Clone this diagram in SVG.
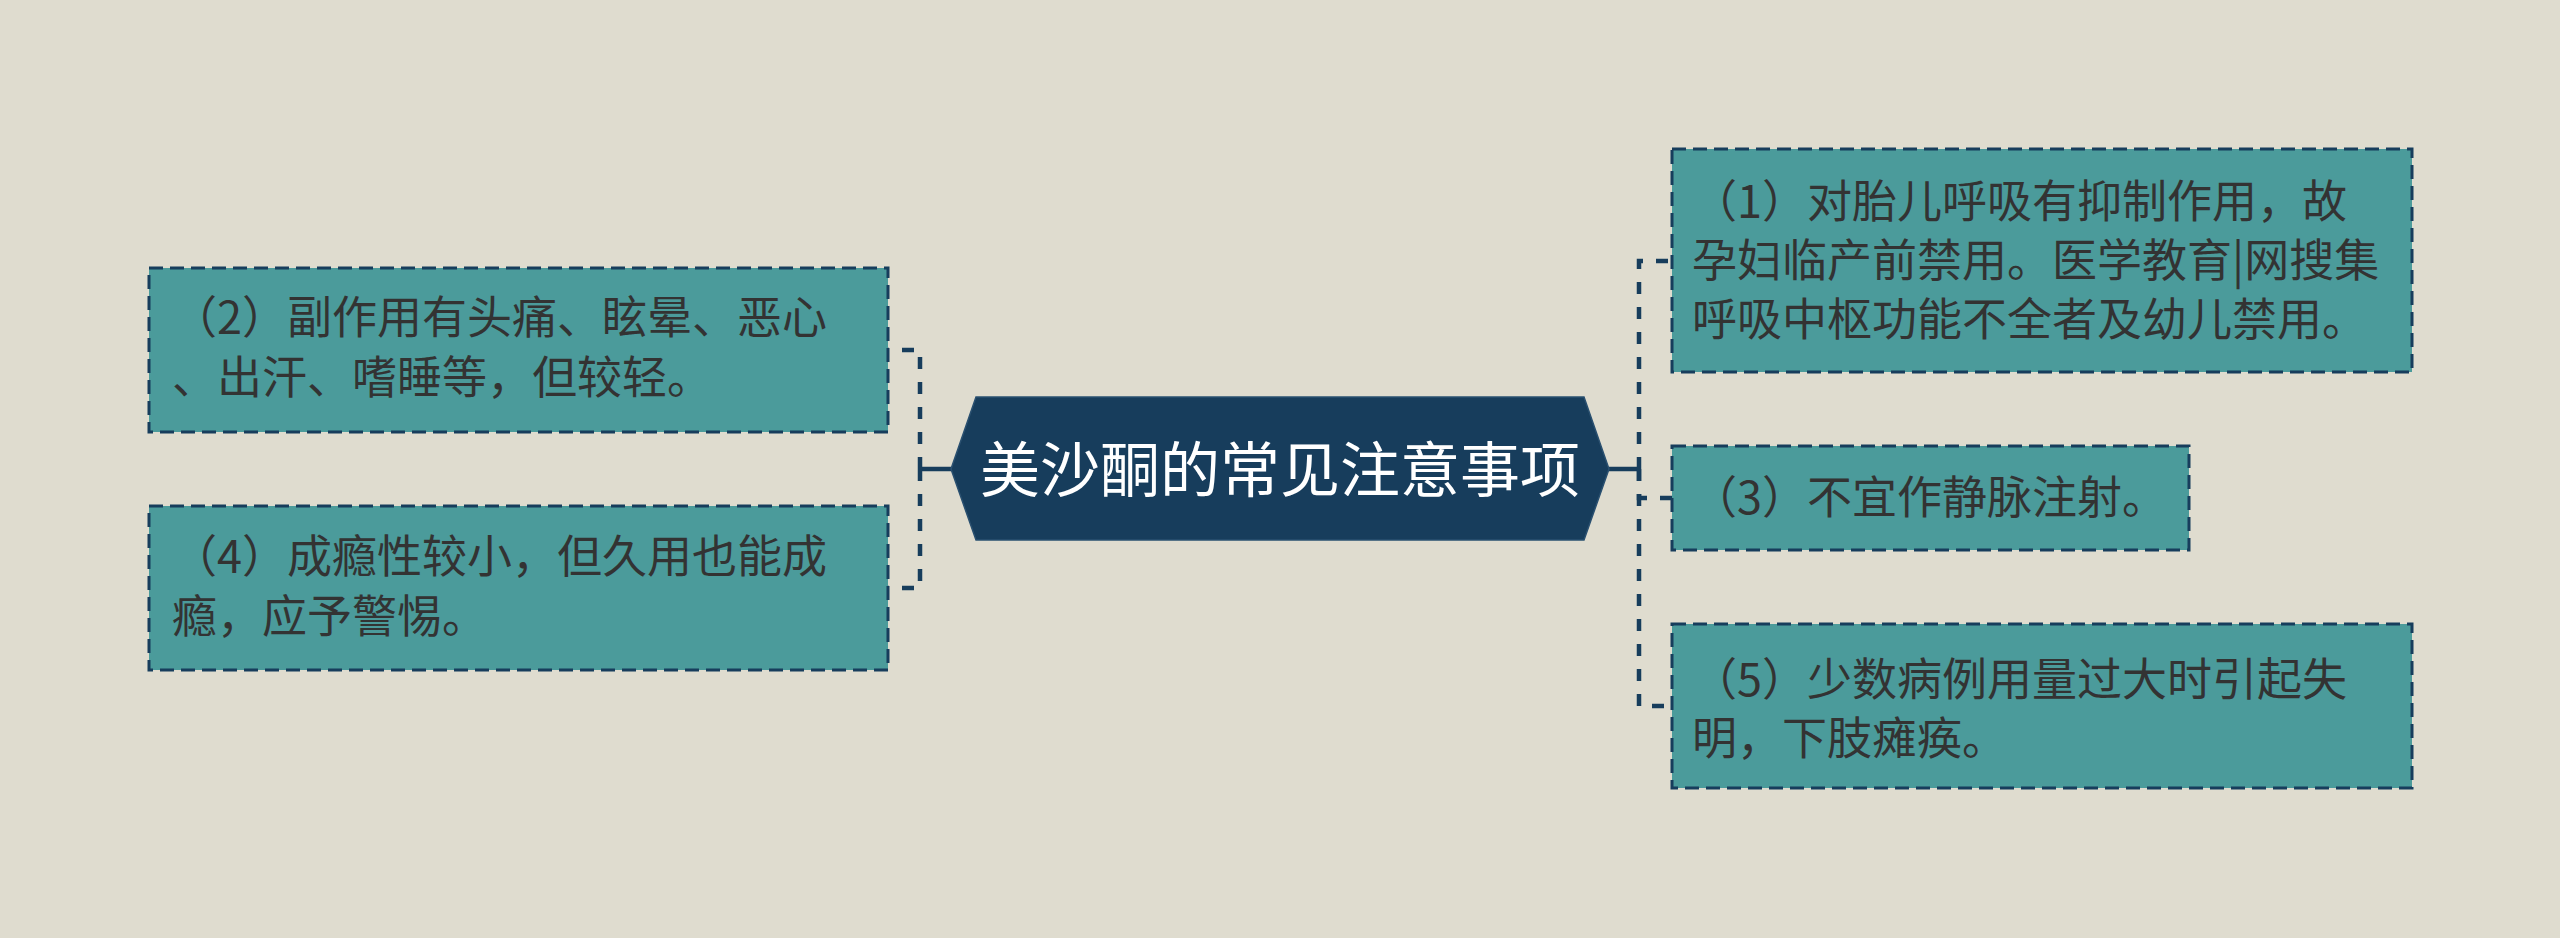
<svg xmlns="http://www.w3.org/2000/svg" width="2560" height="938" viewBox="0 0 2560 938">
<style>
.bg{fill:#dfdccf}
.box{fill:#4b9b9b;stroke:#173d5c;stroke-width:3;stroke-dasharray:14 7}
.t{font-family:"Noto Sans CJK SC","Noto Sans",sans-serif;font-size:45px;fill:#333333}
.ct{font-family:"Noto Sans CJK SC","Noto Sans",sans-serif;font-size:60px;fill:#ffffff}
.dash{fill:none;stroke:#173d5c;stroke-width:4.5;stroke-dasharray:12 13}
.solid{fill:none;stroke:#173d5c;stroke-width:4.5}
</style>
<rect class="bg" x="0" y="0" width="2560" height="938"/>
<g id="connectors">
  <path class="solid" d="M951 469 H920"/>
  <path class="dash" d="M920 469 V350 H888"/>
  <path class="dash" d="M920 469 V588 H888"/>
  <path class="solid" d="M1609 469 H1639"/>
  <path class="dash" d="M1639 469 V261 H1672"/>
  <path class="dash" d="M1639 469 V498 H1672"/>
  <path class="dash" d="M1639 469 V706 H1672"/>
</g>
<g id="center">
  <polygon points="951,469 976,397 1584,397 1609,469 1584,540 976,540" fill="#173d5c" stroke="#2a5070" stroke-width="1.5"/>
  <text class="ct" x="1280" y="492" text-anchor="middle">美沙酮的常见注意事项</text>
</g>
<g id="node2">
  <rect class="box" x="149" y="268" width="739" height="164"/>
  <text class="t" x="172" y="334">（2）副作用有头痛、眩晕、恶心</text>
  <text class="t" x="172" y="394">、出汗、嗜睡等，但较轻。</text>
</g>
<g id="node4">
  <rect class="box" x="149" y="506" width="739" height="164"/>
  <text class="t" x="172" y="573">（4）成瘾性较小，但久用也能成</text>
  <text class="t" x="172" y="633">瘾，应予警惕。</text>
</g>
<g id="node1">
  <rect class="box" x="1672" y="149" width="740" height="223"/>
  <text class="t" x="1692" y="218">（1）对胎儿呼吸有抑制作用，故</text>
  <text class="t" x="1692" y="277">孕妇临产前禁用。医学教育|网搜集</text>
  <text class="t" x="1692" y="336">呼吸中枢功能不全者及幼儿禁用。</text>
</g>
<g id="node3">
  <rect class="box" x="1672" y="446" width="517" height="104"/>
  <text class="t" x="1692" y="514">（3）不宜作静脉注射。</text>
</g>
<g id="node5">
  <rect class="box" x="1672" y="624" width="740" height="164"/>
  <text class="t" x="1692" y="696">（5）少数病例用量过大时引起失</text>
  <text class="t" x="1692" y="755">明，下肢瘫痪。</text>
</g>
</svg>
